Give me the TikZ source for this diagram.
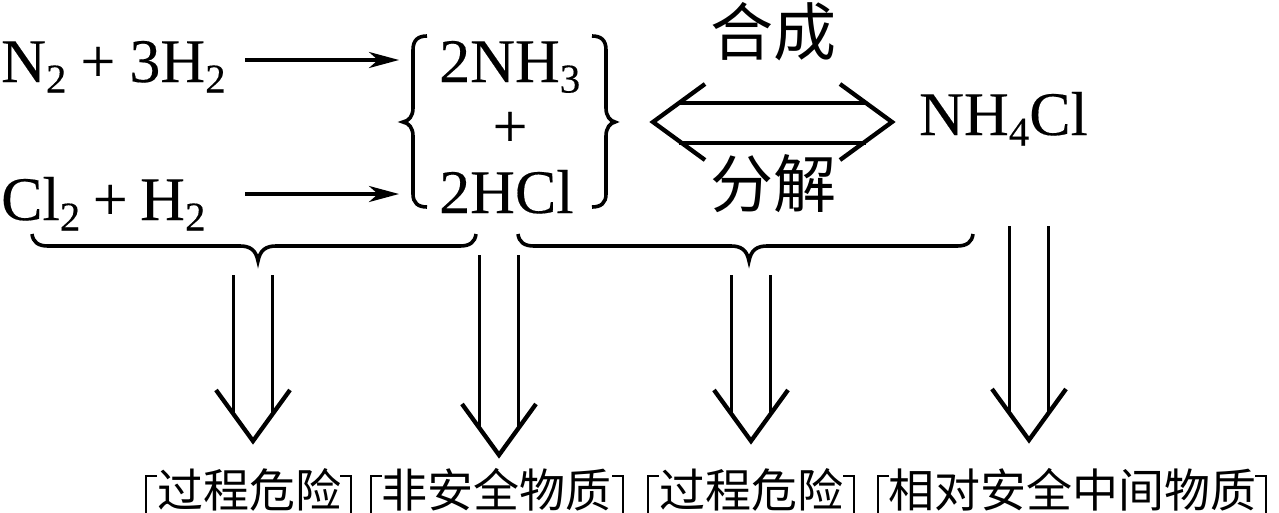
\documentclass[tikz,border=0pt]{standalone}
\usepackage{fontspec}
\setmainfont[FakeBold=0.25]{Liberation Serif}
\newfontfamily\cjk{Noto Sans CJK SC}
\usetikzlibrary{arrows.meta}
\newcommand{\dn}[1]{\raisebox{-0.17em}{\fontsize{41}{44}\selectfont #1}}
% double arrow: name of top coordinate, name of tip coordinate
\newcommand{\dblarrow}[2]{%
  \draw[shaft] ([xshift=-19.5pt]#1) -- ([xshift=-19.5pt,yshift=28pt]#2);
  \draw[shaft] ([xshift=19.5pt]#1) -- ([xshift=19.5pt,yshift=28pt]#2);
  \draw[ln,miter limit=10] ([xshift=-37pt,yshift=51pt]#2) -- (#2) -- ([xshift=37pt,yshift=51pt]#2);
}
\tikzset{
  ln/.style={line width=4.3pt,black},
  shaft/.style={line width=3.6pt,black},
  chem/.style={inner sep=0pt,anchor=base west,font=\fontsize{62}{66}\selectfont},
  han/.style={inner sep=0pt,anchor=base,font=\cjk\fontsize{63}{66}\selectfont},
  lab/.style={inner sep=0pt,anchor=base,font=\cjk\fontsize{46}{50}\selectfont},
  brk/.style={line width=3.6pt,black},
  thin arrow/.style={line width=3.4pt,black,-{Stealth[length=30pt,width=16pt,inset=9pt]}},
}
\begin{document}
\begin{tikzpicture}[x=1pt,y=-1pt]
\useasboundingbox[clip] (0,0) rectangle (1279,512);
% formulas
\node[chem] (n2) at (1,82) {N\dn{2}\hspace{14pt}+\hspace{14pt}3H\dn{2}};
\node[chem] (cl2) at (1,220) {Cl\dn{2}\hspace{12.5pt}+\hspace{12.5pt}H\dn{2}};
\node[chem] (nh3) at (439,82) {2NH\dn{3}};
\node[chem,anchor=base] (plus) at (510,147) {+};
\node[chem] (hcl) at (439,213) {2HCl};
\node[chem] (nh4) at (919,135) {NH\dn{4}Cl};
\node[han] (hecheng) at (773,55) {合成};
\node[han] (fenjie) at (773,207) {分解};
% labels
\node[lab] (l1) at (249,507) {过程危险};
\node[lab] (l2) at (496,507) {非安全物质};
\node[lab] (l3) at (751,507) {过程危险};
\node[lab] (l4) at (1072,507) {相对安全中间物质};
% label brackets
\foreach \a/\b in {146/351,371/623,648/854,878/1266}{
  \draw[line width=2.8pt] (\a+11,476) -- (\a,476) -- (\a,518);
  \draw[line width=2.8pt] (\b-11,476) -- (\b,476) -- (\b,518);
}
% reaction arrows
\coordinate (a1s) at (245,60); \coordinate (a1e) at (399,60);
\coordinate (a2s) at (245,194); \coordinate (a2e) at (399,194);
\draw[thin arrow] (a1s) -- (a1e);
\draw[thin arrow] (a2s) -- (a2e);
% large braces
\draw[brk] (427,36) .. controls (418,36) and (413,40) .. (413,50) -- (413,108)
  .. controls (413,116) and (409,121) .. (403,122)
  .. controls (409,123) and (413,128) .. (413,136) -- (413,194)
  .. controls (413,203) and (418,207) .. (427,207);
\draw[brk] (592,36) .. controls (601,36) and (606,40) .. (606,50) -- (606,108)
  .. controls (606,116) and (610,121) .. (615,122)
  .. controls (610,123) and (606,128) .. (606,136) -- (606,194)
  .. controls (606,203) and (601,207) .. (592,207);
% equilibrium
\coordinate (eqL) at (653,122); \coordinate (eqR) at (892,122);
\draw[shaft] (679,103) -- (866,103);
\draw[shaft] (679,143) -- (866,143);
\draw[ln,miter limit=10] (705,84) -- (eqL) -- (705,160);
\draw[ln,miter limit=10] (840,84) -- (eqR) -- (840,160);
% under braces
\draw[brk] (32,234) .. controls (33,242) and (38,246) .. (48,246) -- (240,246)
  .. controls (250,246) and (256,250) .. (258,261)
  .. controls (260,250) and (266,246) .. (276,246) -- (460,246)
  .. controls (470,246) and (475,242) .. (476,234);
\draw[brk] (518,234) .. controls (519,242) and (524,246) .. (534,246) -- (731,246)
  .. controls (741,246) and (747,250) .. (749,261)
  .. controls (751,250) and (757,246) .. (767,246) -- (957,246)
  .. controls (967,246) and (972,242) .. (973,234);
% double arrows
\coordinate (d1t) at (253,275); \coordinate (d1e) at (253,441);
\coordinate (d2t) at (499,255); \coordinate (d2e) at (499,455);
\coordinate (d3t) at (751,275); \coordinate (d3e) at (751,441);
\coordinate (d4t) at (1029,226); \coordinate (d4e) at (1029,440);
\dblarrow{d1t}{d1e}
\dblarrow{d2t}{d2e}
\dblarrow{d3t}{d3e}
\dblarrow{d4t}{d4e}
\end{tikzpicture}
\end{document}
